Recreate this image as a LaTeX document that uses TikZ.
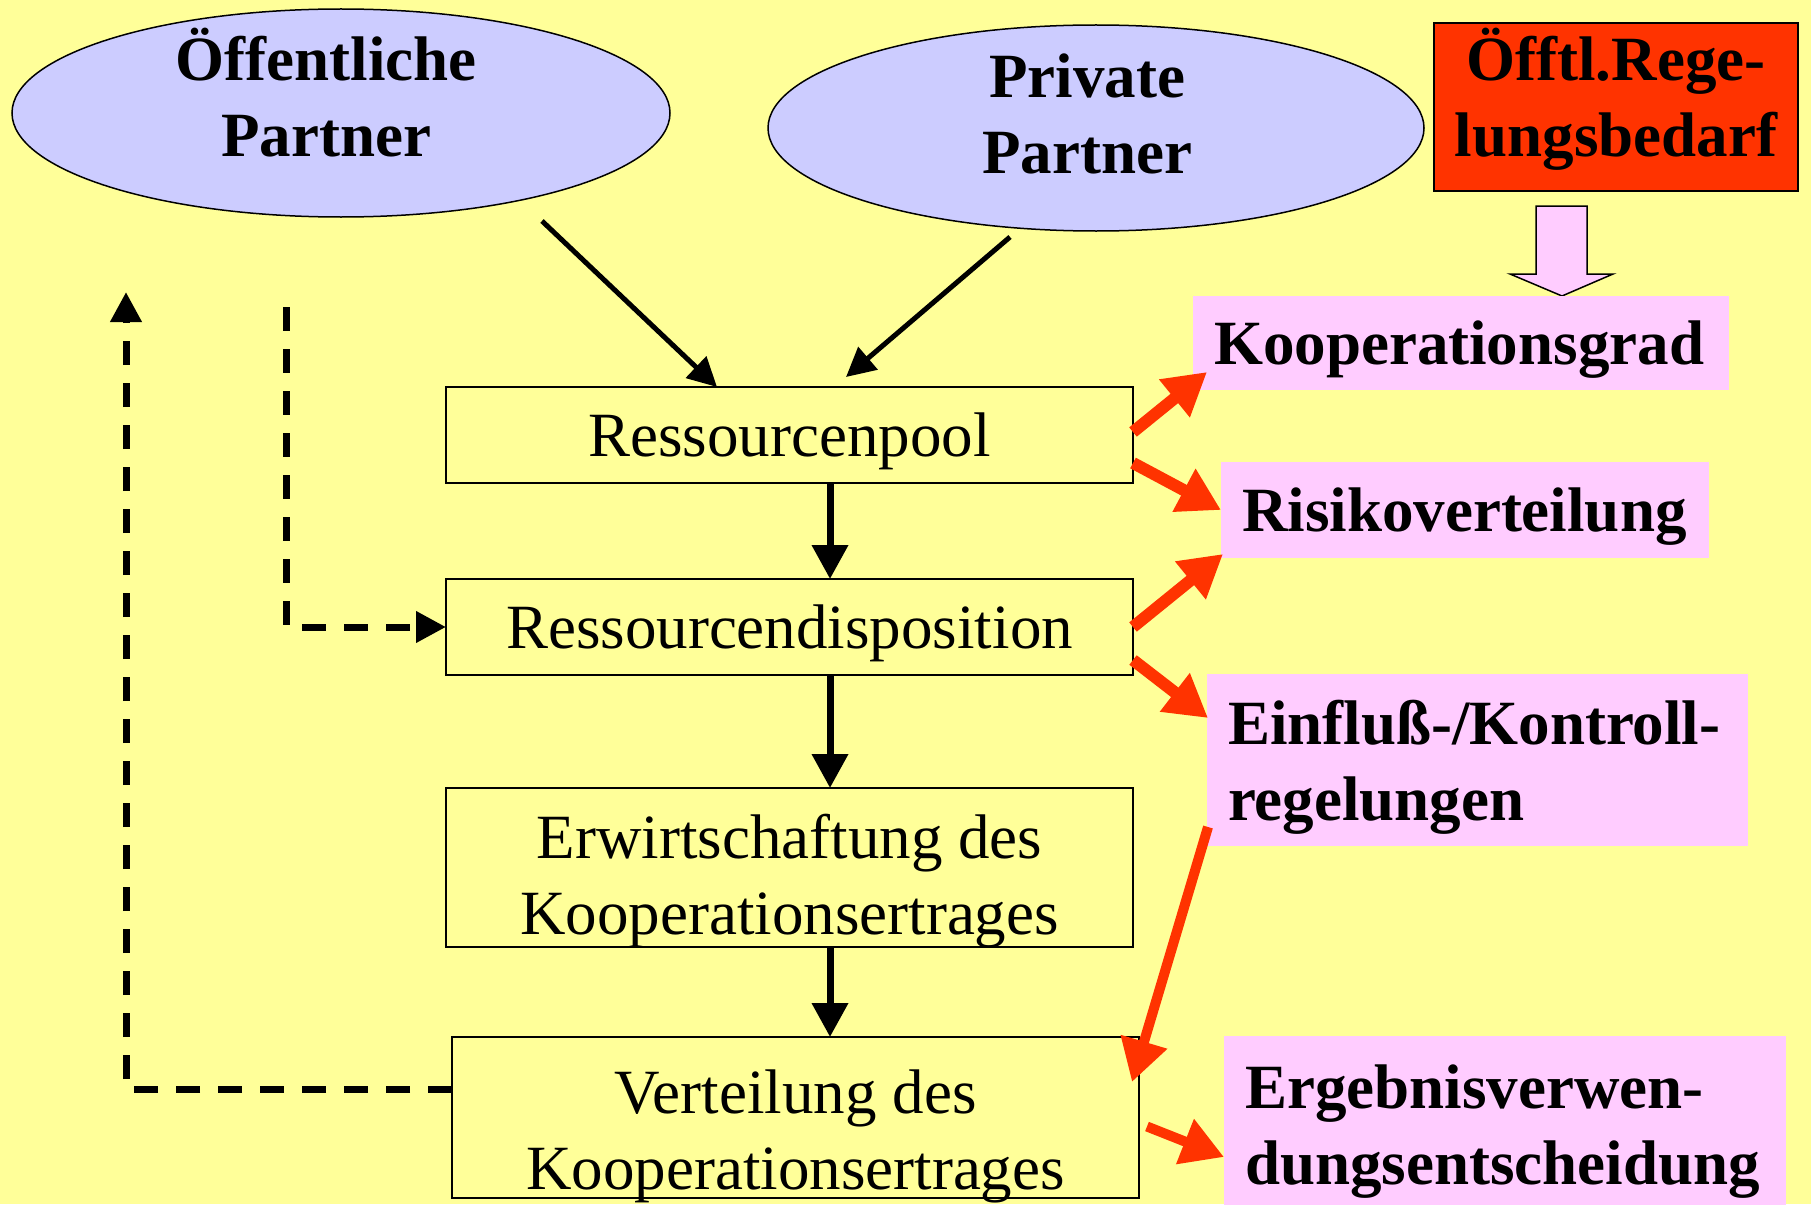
\documentclass[tikz,border=0pt]{standalone}
\usepackage{fontspec}
\setmainfont{Liberation Serif}
\usetikzlibrary{arrows.meta,shapes.geometric}
\definecolor{bgyellow}{HTML}{FFFF99}
\definecolor{lav}{HTML}{CCCCFF}
\definecolor{pinkbox}{HTML}{FFCCFF}
\definecolor{redorange}{HTML}{FF3300}
\begin{document}
\begin{tikzpicture}[x=1pt,y=-1pt,
  every node/.style={inner sep=0pt, outer sep=0pt},
  bigrm/.style={font=\fontsize{63}{76}\selectfont},
  bigbf/.style={font=\fontsize{63}{76}\selectfont\bfseries},
  ellip/.style={ellipse, draw=black, line width=1.5pt, fill=lav},
  procbox/.style={rectangle, draw=black, line width=2pt, fill=bgyellow, bigrm, align=center, minimum width=687pt},
  pinkbx/.style={rectangle, fill=pinkbox, bigbf, align=left, inner xsep=21pt, anchor=west},
  blk/.style={line width=7pt, -{Triangle[length=34pt,width=35pt]}},
  blkdiag/.style={line width=5pt, -{Triangle[length=29pt,width=29pt]}},
  redarr/.style={draw=redorange, line width=12pt, -{Triangle[length=42pt,width=46pt]}},
  dasharr/.style={line width=7pt, dash pattern=on 24pt off 18pt, -{Triangle[length=30pt,width=30pt]}}
]
\fill[bgyellow] (0,0) rectangle (1811,1204);
\useasboundingbox (0,0) rectangle (1811,1204);
\clip (0,0) rectangle (1811,1204);

% ellipses
\node[ellip, minimum width=658pt, minimum height=208pt] (oep) at (341,113) {};
\node[bigbf, align=center] (oepT) at (326,93) {Öffentliche\\Partner};
\node[ellip, minimum width=656pt, minimum height=206pt] (pp) at (1096,128) {};
\node[bigbf, align=center] (ppT) at (1087,114) {Private\\Partner};

% regulation box
\node[rectangle, draw=black, line width=2pt, fill=redorange, bigbf, align=center,
      minimum width=364pt, minimum height=168pt, text height=110pt, text depth=10pt] (reg) at (1616,107) {Öfftl.Rege-\\lungsbedarf};

% hollow block arrow
\draw[line width=1.5pt, fill=pinkbox] (1536,206) -- (1587,206) -- (1587,274) -- (1613,274)
  -- (1562,296) -- (1510,274) -- (1536,274) -- cycle;

% pink boxes
\node[pinkbx, text width=494pt, minimum height=94pt, text depth=0pt] (koop) at (1193,343) {Kooperationsgrad};
\node[pinkbx, text width=446pt, minimum height=96pt, text depth=0pt] (risk) at (1221,510) {Risikoverteilung};
\node[pinkbx, text width=499pt, minimum height=172pt, text height=20pt, text depth=52pt] (einf) at (1207,760) {\mbox{Einfluß-/Kontroll-}\\\mbox{regelungen}};
\node[pinkbx, text width=520pt, minimum height=174pt, text height=20pt, text depth=50pt] (erg) at (1224,1123) {\mbox{Ergebnisverwen-}\\\mbox{dungsentscheidung}};

% process boxes
\node[procbox, minimum height=96pt, text depth=0pt] (pool) at (789.5,435) {Ressourcenpool};
\node[procbox, minimum height=96pt, text depth=0pt] (disp) at (789.5,627) {Ressourcendisposition};
\node[procbox, minimum height=159pt, text height=140pt, text depth=7pt] (erw) at (789.5,867.5) {Erwirtschaftung des\\Kooperationsertrages};
\node[procbox, minimum height=161pt, text height=150pt, text depth=7pt] (vert) at (795.5,1117.5) {Verteilung des\\Kooperationsertrages};

% black arrows
\coordinate (s1) at (542,221);
\coordinate (s2) at (1010,237);
\draw[blkdiag] (s1) -- ([xshift=-72.5pt]pool.north);
\draw[blkdiag] (s2) -- ([xshift=56.5pt,yshift=10pt]pool.north);
\draw[blk] ([xshift=40.5pt]pool.south) -- ([xshift=40.5pt]disp.north);
\draw[blk] ([xshift=40.5pt]disp.south) -- ([xshift=40.5pt]erw.north);
\draw[blk] ([xshift=40.5pt]erw.south) -- ([xshift=34.5pt]vert.north);

% dashed feedback arrows
\coordinate (up) at (126,292);
\coordinate (dtop) at (286,307);
\draw[dasharr] ([yshift=28.5pt]vert.west) -| (up);
\draw[dasharr] (dtop) |- (disp.west);

% red arrows
\draw[redarr] ([yshift=3pt]pool.east) -- ([xshift=14pt,yshift=18pt]koop.south west);
\draw[redarr] ([yshift=-28pt]pool.east) -- (risk.west);
\draw[redarr] (disp.east) -- ([xshift=2pt,yshift=4pt]risk.south west);
\draw[redarr] ([yshift=-33pt]disp.east) -- ([xshift=1pt,yshift=-44pt]einf.north west);
\draw[redarr, line width=10pt] ([xshift=1pt,yshift=19pt]einf.south west) -- ([xshift=-7pt,yshift=-45pt]vert.north east);
\draw[redarr, line width=10pt] ([xshift=8pt,yshift=-9pt]vert.east) -- ([yshift=-34pt]erg.west);
\end{tikzpicture}
\end{document}
